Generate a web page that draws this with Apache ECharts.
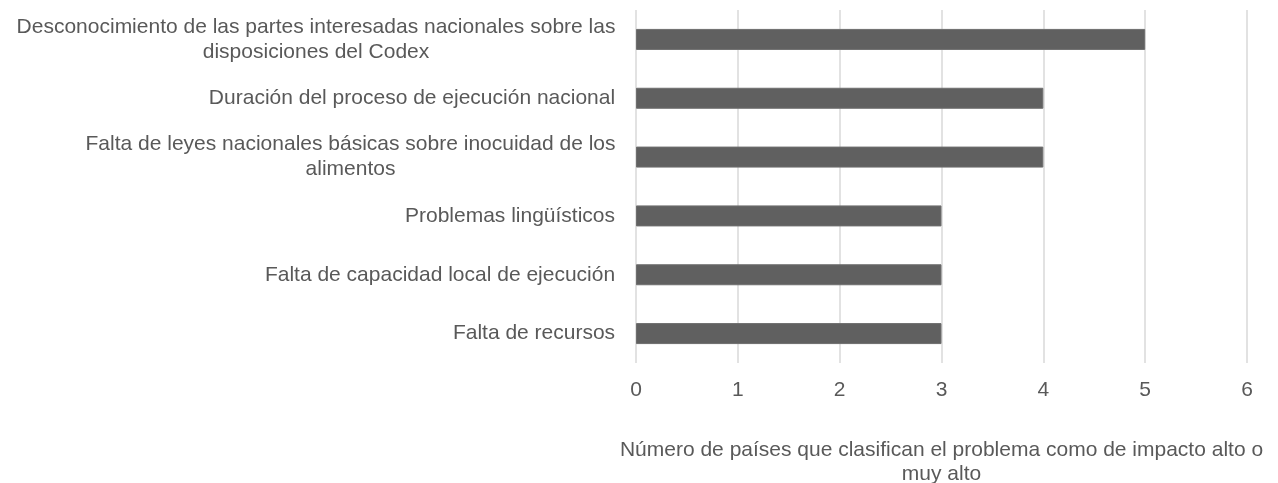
<!DOCTYPE html>
<html>
<head>
<meta charset="utf-8">
<script src="https://cdn.jsdelivr.net/npm/echarts@6/dist/echarts.min.js"></script>
<style>
  html, body { margin: 0; padding: 0; background: #fff; }
  #chart { width: 1278px; height: 483px; }
</style>
</head>
<body>
<div id="chart"></div>
<script>
// data
const categories = [
  'Desconocimiento de las partes interesadas nacionales sobre las\ndisposiciones del Codex',
  'Duración del proceso de ejecución nacional',
  'Falta de leyes nacionales básicas sobre inocuidad de los\nalimentos',
  'Problemas lingüísticos',
  'Falta de capacidad local de ejecución',
  'Falta de recursos'
];
const values = [5, 4, 4, 3, 3, 3];
const axisTitle = 'Número de países que clasifican el problema como de impacto alto o\nmuy alto';

const FONT = '"Liberation Sans", Arial, sans-serif';
const SIZE = 21;
const TEXT = '#595959';

// measure label lines so wrapped lines can be centred inside the block (like Excel)
const ctx = document.createElement('canvas').getContext('2d');
ctx.font = SIZE + 'px ' + FONT;
const rich = {};
categories.forEach((c, i) => {
  const w = Math.max(...c.split('\n').map(s => ctx.measureText(s).width));
  rich['c' + i] = { width: Math.ceil(w) + 1, align: 'center', fontSize: SIZE, fontFamily: FONT, color: TEXT, lineHeight: 25 };
});

const chart = echarts.init(document.getElementById('chart'));
chart.setOption({
  animation: false,
  textStyle: { fontFamily: FONT },
  grid: { left: 636, right: 31, top: 10, bottom: 120, containLabel: false, outerBoundsMode: 'none' },
  xAxis: {
    type: 'value',
    min: 0,
    max: 6,
    interval: 1,
    axisLine: { show: false },
    axisTick: { show: false },
    splitLine: { lineStyle: { color: '#d9d9d9', width: 1.5 } },
    axisLabel: { color: TEXT, fontSize: SIZE, margin: 17 },
    name: axisTitle,
    nameLocation: 'middle',
    nameGap: 75,
    nameTextStyle: { color: TEXT, fontSize: SIZE, lineHeight: 24, align: 'center' }
  },
  yAxis: {
    type: 'category',
    data: categories,
    inverse: true,
    axisLine: { show: false },
    axisTick: { show: false },
    axisLabel: {
      margin: 20,
      formatter: (v, i) => v.split('\n').map(s => '{c' + i + '|' + s + '}').join('\n'),
      rich: rich
    }
  },
  series: [{
    type: 'bar',
    data: values,
    barWidth: 21,
    itemStyle: { color: '#606060', borderColor: '#6e6e6e', borderWidth: 1 }
  }]
});
</script>
</body>
</html>
